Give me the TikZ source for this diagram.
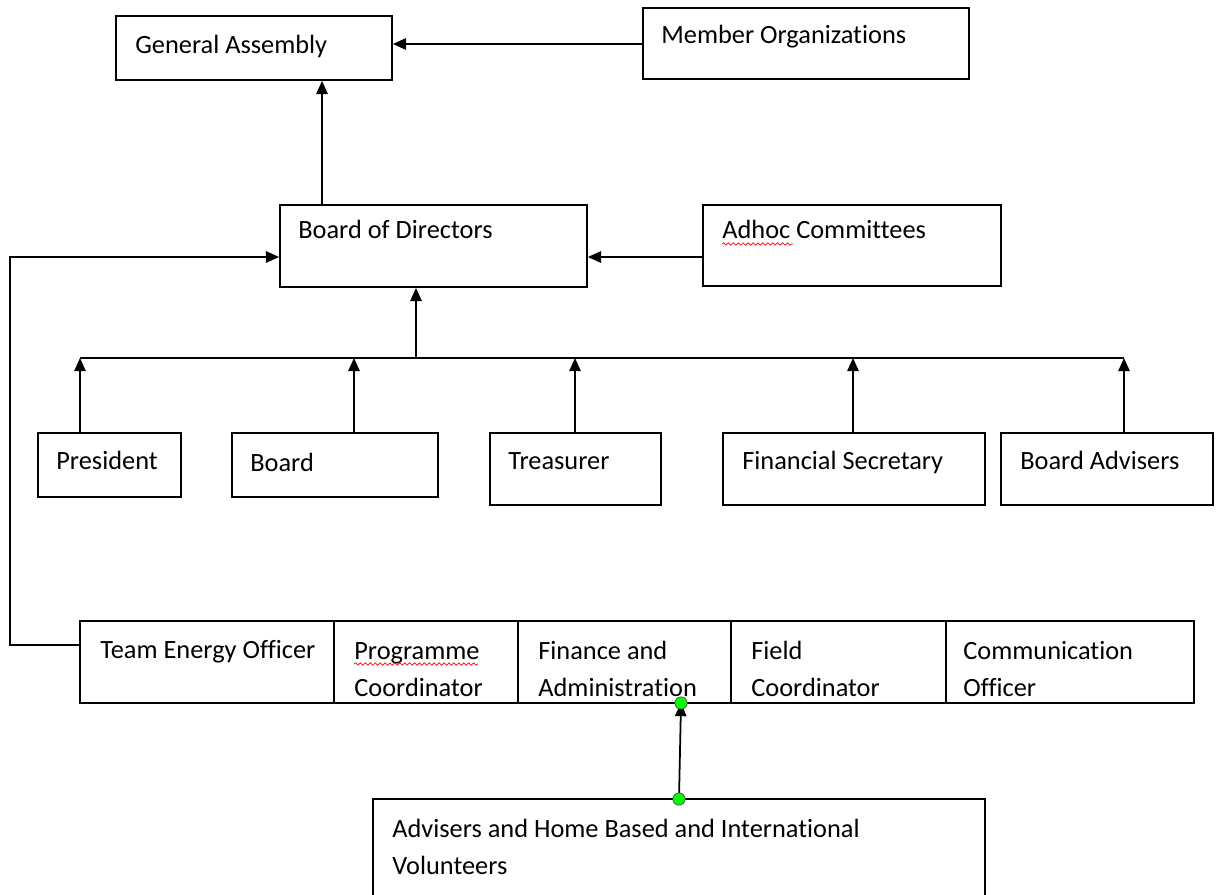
\documentclass[tikz,border=0pt]{standalone}
\usepackage{fontspec}
\setmainfont{Carlito}[Ligatures=NoCommon]
\usetikzlibrary{positioning,fit,calc,arrows.meta,decorations.pathmorphing}

\tikzset{
  orgbox/.style={draw, line width=1pt, inner sep=0pt},
  lbl/.style={anchor=base west, inner sep=0pt, font=\fontsize{15}{18}\selectfont},
  arr/.style={line width=1pt, -{Triangle[length=7.5pt,width=6.5pt]}},
  wire/.style={line width=1pt},
  spell/.style={red, line width=0.4pt, decorate,
    decoration={snake, amplitude=0.7pt, segment length=2.8pt}},
  dot/.style={circle, draw=black!70, fill=green, line width=0.4pt,
    inner sep=0pt, minimum size=7pt}
}

\begin{document}
\begin{tikzpicture}[x=0.02cm, y=-0.02cm]
    \clip (0,0) rectangle (1216,895);

    % Top level
    \node[orgbox, fit={(116,16) (392,80)}] (ga) {};
    \node[lbl] (gatxt) at (135,54) {General Assembly};
    \node[orgbox, fit={(643,8) (969,79)}] (mo) {};
    \node[lbl] (motxt) at (661,44) {Member Organizations};

    % Board level
    \node[orgbox, fit={(280,205) (587,287)}] (bod) {};
    \node[lbl] (bodtxt) at (298,238) {Board of Directors};
    \node[orgbox, fit={(703,205) (1001,286)}] (adhoc) {};
    \node[lbl] (adhoctxt) at (722,238) {Adhoc Committees};
    \draw[spell] (722,244) -- (793,244);

    % Officers
    \node[orgbox, fit={(38,433) (181,497)}] (pres) {};
    \node[lbl] (prestxt) at (56,469) {President};
    \node[orgbox, fit={(232,433) (438,497)}] (brd) {};
    \node[lbl] (brdtxt) at (250,471) {Board};
    \node[orgbox, fit={(490,433) (661,505)}] (tres) {};
    \node[lbl] (trestxt) at (508,469) {Treasurer};
    \node[orgbox, fit={(723,433) (985,505)}] (fsec) {};
    \node[lbl] (fsectxt) at (742,469) {Financial Secretary};
    \node[orgbox, fit={(1001,433) (1213,505)}] (badv) {};
    \node[lbl] (badvtxt) at (1020,469) {Board Advisers};

    % Staff row
    \node[orgbox, fit={(80,621) (334,703)}] (teo) {};
    \node[lbl] (teotxt) at (100,658) {Team Energy Officer};
    \node[orgbox, fit={(334,621) (518,703)}] (prog) {};
    \node[lbl, align=left] (progtxt) at (354,696) {Programme\\[3pt]Coordinator};
    \draw[spell] (354,664) -- (478,664);
    \node[orgbox, fit={(518,621) (731,703)}] (fin) {};
    \node[lbl, align=left] (fintxt) at (538,696) {Finance and\\[3pt]Administration};
    \node[orgbox, fit={(731,621) (946,703)}] (field) {};
    \node[lbl, align=left] (fieldtxt) at (751,696) {Field\\[3pt]Coordinator};
    \node[orgbox, fit={(946,621) (1194,703)}] (comm) {};
    \node[lbl, align=left] (commtxt) at (963,696) {Communication\\[3pt]Officer};

    % Volunteers
    \node[orgbox, fit={(373,799) (985,910)}] (adv) {};
    \node[lbl, align=left] (advtxt) at (392,874) {Advisers and Home Based and International\\[3pt]Volunteers};

    % Connectors
    \draw[arr] (mo.west |- 0,44) -- (ga.east |- 0,44);
    \draw[arr] (322,0 |- bod.north) -- (322,0 |- ga.south);
    \draw[arr] (adhoc.west |- 0,257) -- (bod.east |- 0,257);

    \coordinate (bus) at (416,358);
    \draw[arr] (bus) -- (bus |- bod.south);
    \draw[wire] (80,0 |- bus) -- (1124,0 |- bus);
    \foreach \n/\x in {pres/80, brd/354, tres/575, fsec/853, badv/1124}
      \draw[arr] (\x,0 |- \n.north) -- (\x,0 |- bus);

    \coordinate (bend) at (10,645);
    \draw[arr] (teo.west |- bend) -- (bend) |- ($(bod.west)+(0,11)$);

    \coordinate (dotlo) at (679,799);
    \coordinate (dothi) at (681,703);
    \draw[arr] (dotlo) -- (dothi);
    \node[dot] (dlo) at (dotlo) {};
    \node[dot] (dhi) at (dothi) {};
\end{tikzpicture}
\end{document}
